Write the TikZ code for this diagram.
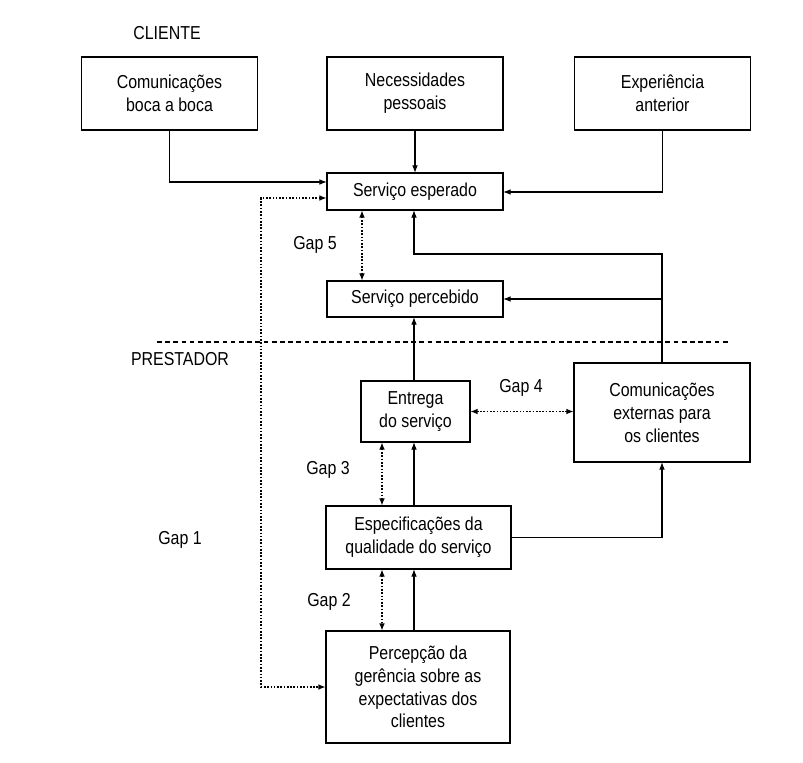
\documentclass[tikz,border=0pt]{standalone}
\usepackage{fontspec}
\setmainfont{Liberation Sans}[FakeStretch=0.85]
\usetikzlibrary{arrows.meta,calc}
\begin{document}
\begin{tikzpicture}[x=0.03cm,y=-0.03cm,
  every node/.style={font=\fontsize{16}{19.5}\selectfont},
  box/.style={draw, line width=1.1pt, inner sep=0pt, outer sep=0pt, align=center, fill=white},
  arr/.style={line width=1pt, -{Latex[length=6.5pt,width=4.8pt]}},
  dotarr/.style={line width=1.4pt, dash pattern=on 1.4pt off 1.4pt, {Latex[length=6.5pt,width=4.8pt]}-{Latex[length=6.5pt,width=4.8pt]}},
  sep/.style={line width=1.2pt, dash pattern=on 4pt off 3pt},
  lbl/.style={inner sep=0pt}]
\useasboundingbox (0,0) rectangle (803,763);

% labels
\node[lbl] (cliente) at (167,33) {CLIENTE};
\node[lbl] (prestador) at (180,359) {PRESTADOR};
\node[lbl] (gap1) at (180,540) {Gap 1};
\node[lbl] (gap2) at (329,602) {Gap 2};
\node[lbl] (gap3) at (328,470) {Gap 3};
\node[lbl] (gap4) at (521,388) {Gap 4};
\node[lbl] (gap5) at (315,245) {Gap 5};

% boxes
\node[box, minimum width=5.28cm, minimum height=2.19cm] (A) at (169.5,93.5) {Comunicações\\boca a boca};
\node[box, minimum width=5.28cm, minimum height=2.19cm] (B) at (415,93.5) {Necessidades\\pessoais};
\node[box, minimum width=5.28cm, minimum height=2.19cm] (C) at (662.5,93.5) {Experiência\\anterior};
\node[box, minimum width=5.28cm, minimum height=1.11cm] (SE) at (415,191.5) {Serviço esperado};
\node[box, minimum width=5.28cm, minimum height=1.08cm] (SP) at (415,299) {Serviço percebido};
\node[box, minimum width=3.27cm, minimum height=1.83cm] (E) at (415.5,411.5) {Entrega\\do serviço};
\node[box, minimum width=5.28cm, minimum height=2.97cm] (CE) at (662,412.5) {Comunicações\\externas para\\os clientes};
\node[box, minimum width=5.55cm, minimum height=1.89cm] (ES) at (418.5,537.5) {Especificações da\\qualidade do serviço};
\node[box, minimum width=5.52cm, minimum height=3.36cm] (P) at (418,687) {Percepção da\\gerência sobre as\\expectativas dos\\clientes};

% helper coordinates
\coordinate (xm) at (414,0);
\coordinate (xg) at (382,0);
\coordinate (xg5) at (362,0);
\coordinate (g1top) at (261,198);
\coordinate (g1bot) at (261,687);
\coordinate (sepL) at (157,342);
\coordinate (sepR) at (730,342);
\coordinate (yA) at (0,182);
\coordinate (yC) at (0,192);
\coordinate (yCE) at (0,254);

% separator
\draw[sep] (sepL) -- (sepR);

% client side arrows
\draw[arr] (A.south) |- (SE.west |- yA);
\draw[arr] (B.south) -- (SE.north);
\draw[arr] (C.south) |- (SE.east |- yC);

% gap 1
\draw[dotarr] (SE.west |- g1top) -- (g1top) -- (g1bot) -- (P.west |- g1bot);

% gap 5
\draw[dotarr] (SE.south -| xg5) -- (SP.north -| xg5);

% external communications
\draw[arr] (CE.north) -- (CE.north |- yCE) -| (SE.south -| xm);
\draw[arr] (CE.north |- SP.east) -- (SP.east);

% delivery to perceived
\draw[arr] (E.north -| xm) -- (SP.south -| xm);

% gap 4
\draw[dotarr] (E.east) -- (E.east -| CE.west);

% gap 3 and spec -> delivery
\draw[dotarr] (E.south -| xg) -- (ES.north -| xg);
\draw[arr] (ES.north -| xm) -- (E.south -| xm);
\draw[arr] (ES.east) -| (CE.south);

% gap 2 and perception -> spec
\draw[dotarr] (ES.south -| xg) -- (P.north -| xg);
\draw[arr] (P.north -| xm) -- (ES.south -| xm);
\end{tikzpicture}
\end{document}
